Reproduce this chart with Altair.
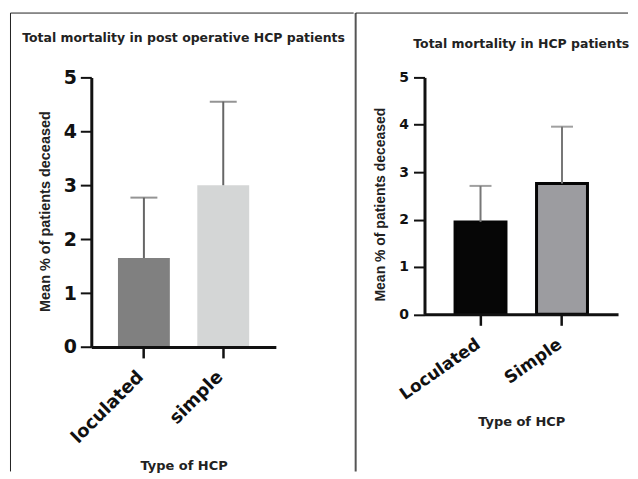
import altair as alt
import pandas as pd

# ---- data ----
left_types = ["loculated", "simple"]
left_means = [1.65, 3.0]
left_sd = [1.12, 1.55]
left_colors = ["#808080", "#d4d6d6"]

right_types = ["Loculated", "Simple"]
right_means = [1.95, 2.76]
right_sd = [0.76, 1.20]
right_colors = ["#060606", "#9c9ca0"]

y_ticks = [0, 1, 2, 3, 4, 5]

left_title = "Total mortality in post operative HCP patients"
right_title = "Total mortality in HCP patients"
y_title = "Mean % of patients deceased"
x_title = "Type of HCP"

left_df = pd.DataFrame({"type": left_types, "mean": left_means, "sd": left_sd})
left_df["upper"] = left_df["mean"] + left_df["sd"]
right_df = pd.DataFrame({"type": right_types, "mean": right_means, "sd": right_sd})
right_df["upper"] = right_df["mean"] + right_df["sd"]
frame_df = pd.DataFrame({"f": [0]})

BOLD = "DejaVu Sans"


def make_panel(df, types, colors, title, title_size, W, H, p_in, p_out,
               y_lab_size, y_lab_pad, y_title_size, y_title_x, y_title_y,
               x_lab_angle, x_lab_size, x_lab_pad, x_lab_off, x_title_y,
               bar_stroke, err_color, cap_size, title_offset, frame):
    xscale = alt.Scale(domain=types, paddingInner=p_in, paddingOuter=p_out)
    yscale = alt.Scale(domain=[0, 5], nice=False)
    xaxis = alt.Axis(
        title=x_title, labelAngle=x_lab_angle, labelAlign="right",
        labelBaseline="middle", labelFont=BOLD, labelFontWeight="bold",
        labelFontSize=x_lab_size, labelColor="#111", labelPadding=x_lab_pad,
        labelOffset=x_lab_off,
        tickSize=11, tickWidth=2.5, tickColor="#111", domainWidth=3,
        domainColor="#111", titleFont=BOLD, titleFontWeight="bold",
        titleFontSize=13, titleColor="#222", titleY=x_title_y,
        titleBaseline="middle", zindex=1,
    )
    yaxis = alt.Axis(
        title=y_title, values=y_ticks, format="d", grid=False,
        labelFont=BOLD, labelFontWeight="bold", labelFontSize=y_lab_size,
        labelColor="#111", labelPadding=y_lab_pad, tickSize=11,
        tickWidth=2, tickColor="#111", domainWidth=3, domainColor="#111",
        titleFont="Liberation Sans", titleFontWeight="bold",
        titleFontSize=y_title_size, titleColor="#222", titleAngle=270,
        titleX=y_title_x, titleY=y_title_y, titleAlign="center",
        titleBaseline="middle", zindex=1,
    )
    base = alt.Chart(df)
    X = alt.X("type:N", scale=xscale, axis=xaxis, sort=types)
    bar_kw = {}
    if bar_stroke:
        bar_kw = dict(stroke="#050505", strokeWidth=3)
    bars = base.mark_bar(**bar_kw).encode(
        x=X,
        y=alt.Y("mean:Q", scale=yscale, axis=yaxis),
        color=alt.Color("type:N", scale=alt.Scale(domain=types, range=colors),
                        legend=None),
    )
    err = base.mark_rule(color=err_color, strokeWidth=2).encode(
        x=X, y=alt.Y("mean:Q", scale=yscale, axis=yaxis), y2="upper:Q"
    )
    cap = base.mark_tick(color=err_color, thickness=2, size=cap_size).encode(
        x=X, y=alt.Y("upper:Q", scale=yscale, axis=yaxis)
    )
    layers = [bars, err, cap]
    for (x1, x2, y1, y2, col, sw) in frame:
        enc = dict(x=alt.value(x1), y=alt.value(y1))
        if x2 is not None:
            enc["x2"] = alt.value(x2)
        if y2 is not None:
            enc["y2"] = alt.value(y2)
        layers.append(
            alt.Chart(frame_df).mark_rule(color=col, strokeWidth=sw).encode(**enc)
        )
    return alt.layer(*layers).properties(
        width=W, height=H,
        title=alt.TitleParams(
            text=title, font=BOLD, fontSize=title_size, fontWeight="bold",
            color="#222", anchor="middle", frame="group", offset=title_offset,
        ),
    )


left = make_panel(
    left_df, left_types, left_colors, left_title, 12.5, W=185, H=270.2,
    p_in=0.346, p_out=0.336, y_lab_size=19, y_lab_pad=4, y_title_size=14.5,
    y_title_x=-46, y_title_y=134, x_lab_angle=315, x_lab_size=18,
    x_lab_pad=16, x_lab_off=-3, x_title_y=119, bar_stroke=False,
    err_color="#666666", cap_size=27, title_offset=-32,
    frame=[(-81, None, -64.5, 395, "#222222", 1),
           (-81, 263, -64.5, None, "#222222", 1)],
)

right = make_panel(
    right_df, right_types, right_colors, right_title, 12.5, W=194, H=237.5,
    p_in=0.375, p_out=0.375, y_lab_size=14, y_lab_pad=5, y_title_size=14,
    y_title_x=-44.5, y_title_y=127, x_lab_angle=325, x_lab_size=17,
    x_lab_pad=17, x_lab_off=-2, x_title_y=107, bar_stroke=True,
    err_color="#777777", cap_size=22, title_offset=-38.7,
    frame=[(-69, None, -64.5, 395, "#555555", 2),
           (-69, 204, -64.5, None, "#222222", 1)],
)

chart = (
    alt.hconcat(left, right, spacing=0)
    .resolve_scale(color="independent", x="independent", y="independent")
    .properties(padding={"left": 1.5, "top": 3, "right": 0, "bottom": 0},
                background="white")
    .configure_view(stroke=None)
)

chart.save("out.html", embed_options={"renderer": "svg", "actions": False})
